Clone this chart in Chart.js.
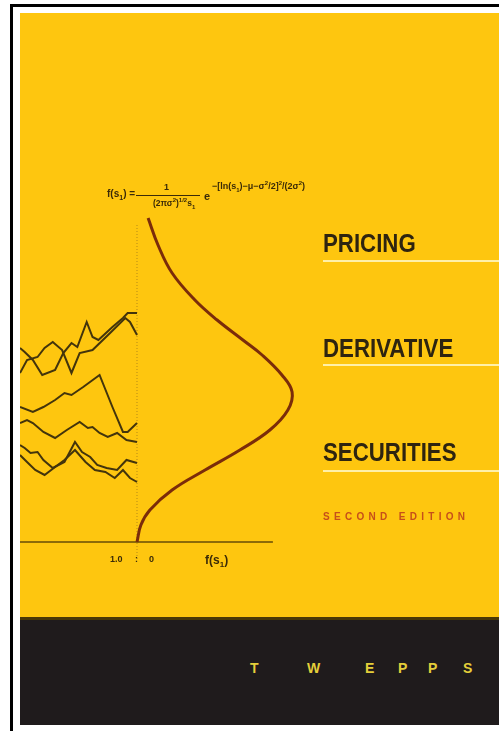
<!DOCTYPE html>
<html>
<head>
<meta charset="utf-8">
<script src="https://cdn.jsdelivr.net/npm/chart.js@4/dist/chart.umd.min.js"></script>
<style>
  body { margin: 0; background: #fff; width: 499px; height: 731px; overflow: hidden; position: relative; font-family: "Liberation Sans", Arial, sans-serif; }
  .abs { position: absolute; white-space: nowrap; }
  #frameTop { left: 10px; top: 4px; width: 489px; height: 3px; background: #000; }
  #frameLeft { left: 10px; top: 4px; width: 3px; height: 727px; background: #000; }
  #cover { left: 20px; top: 13px; width: 479px; height: 604px; background: #fec60f; }
  #band { left: 20px; top: 617px; width: 479px; height: 108px; background: #1f1b1c; border-top: 3px solid #4a3806; box-sizing: border-box; }
  #chartBox { left: 20px; top: 13px; width: 479px; height: 607px; }
  .title { font-weight: bold; font-size: 25px; color: #2e2410; transform: scaleX(0.89); transform-origin: left top; line-height: 25px; }
  .rule { height: 2px; background: #fff0a8; left: 323px; width: 176px; }
  .f { font-weight: bold; color: #3a2a08; }
  .author { font-weight: bold; font-size: 14px; color: #e4cf3a; }
</style>
</head>
<body>
<div class="abs" id="frameTop"></div>
<div class="abs" id="frameLeft"></div>
<div class="abs" id="cover"></div>
<div class="abs" id="band"></div>
<div class="abs" id="chartBox"><canvas id="cover-chart" width="479" height="607"></canvas></div>

<!-- formula -->
<div class="abs f" style="left:107px; top:188px; font-size:10px;">f(s<sub style="font-size:7px">1</sub>) =</div>
<div class="abs f" style="left:164px; top:182px; font-size:9px;">1</div>
<div class="abs" style="left:136px; top:195px; width:64px; height:1px; background:#3a2a08;"></div>
<div class="abs f" style="left:153px; top:197px; font-size:8.5px;">(2πσ<sup style="font-size:6px">2</sup>)<sup style="font-size:6px">1/2</sup>s<sub style="font-size:6px">1</sub></div>
<div class="abs f" style="left:204px; top:190px; font-size:11px;">e</div>
<div class="abs f" style="left:212px; top:180px; font-size:9px;">−[ln(s<sub style="font-size:6px">1</sub>)−μ−σ<sup style="font-size:6px">2</sup>/2]<sup style="font-size:6px">2</sup>/(2σ<sup style="font-size:6px">2</sup>)</div>

<!-- titles -->
<div class="abs title" style="left:323px; top:231px;">PRICING</div>
<div class="abs rule" style="top:260px;"></div>
<div class="abs title" style="left:323px; top:336px;">DERIVATIVE</div>
<div class="abs rule" style="top:364px;"></div>
<div class="abs title" style="left:323px; top:440px;">SECURITIES</div>
<div class="abs rule" style="top:470px;"></div>
<div class="abs" style="left:323px; top:511px; font-weight:bold; font-size:10px; letter-spacing:4.3px; color:#c64f1a;">SECOND EDITION</div>

<!-- axis labels -->
<div class="abs f" style="left:110px; top:554px; font-size:9px;">1.0</div>
<div class="abs f" style="left:135px; top:554px; font-size:9px;">:</div>
<div class="abs f" style="left:149px; top:554px; font-size:9px;">0</div>
<div class="abs f" style="left:205px; top:553px; font-size:12px;">f(s<sub style="font-size:8px">1</sub>)</div>

<!-- author -->
<div class="abs author" style="left:250px; top:660px;">T</div>
<div class="abs author" style="left:307px; top:660px;">W</div>
<div class="abs author" style="left:365px; top:660px;">E</div>
<div class="abs author" style="left:398px; top:660px;">P</div>
<div class="abs author" style="left:428px; top:660px;">P</div>
<div class="abs author" style="left:463px; top:660px;">S</div>

<script>
// simulated price paths: [time, price]
const path1 = [[0,1.69],[0.06,1.82],[0.15,1.85],[0.21,1.94],[0.28,2.00],[0.36,1.92],[0.44,1.69],[0.51,1.89],[0.62,1.92],[0.77,2.09],[0.90,2.24],[0.94,2.20],[1.0,2.07]];
const path2 = [[0,1.94],[0.04,1.90],[0.11,1.82],[0.19,1.67],[0.30,1.72],[0.37,1.89],[0.44,1.99],[0.49,1.95],[0.57,2.20],[0.62,2.05],[0.67,2.02],[0.79,2.15],[0.88,2.24],[0.92,2.29],[1.0,2.29]];
const path3 = [[0,1.35],[0.11,1.30],[0.20,1.35],[0.30,1.42],[0.38,1.49],[0.44,1.47],[0.54,1.55],[0.68,1.67],[0.79,1.35],[0.88,1.10],[0.92,1.10],[1.0,1.19]];
const path4 = [[0,1.19],[0.06,1.22],[0.11,1.19],[0.20,1.10],[0.30,1.04],[0.40,1.12],[0.51,1.20],[0.58,1.14],[0.62,1.15],[0.68,1.09],[0.75,1.05],[0.83,1.09],[0.91,1.02],[1.0,1.00]];
const path5 = [[0,0.97],[0.04,0.94],[0.09,0.89],[0.15,0.90],[0.20,0.82],[0.28,0.74],[0.38,0.80],[0.47,1.00],[0.53,0.90],[0.60,0.85],[0.66,0.77],[0.74,0.74],[0.83,0.72],[0.91,0.82],[1.0,0.79]];
const path6 = [[0,0.87],[0.06,0.80],[0.13,0.72],[0.21,0.67],[0.30,0.75],[0.38,0.82],[0.47,0.92],[0.56,0.80],[0.64,0.72],[0.73,0.70],[0.81,0.64],[0.88,0.72],[0.94,0.64],[1.0,0.60]];
const paths = [path1, path2, path3, path4, path5, path6];

// density of s1 (price, f)
const densityS = [3.24, 2.97, 2.69, 2.42, 2.22, 2.02, 1.87, 1.67, 1.50, 1.32, 1.12, 0.92, 0.72, 0.52, 0.32, 0.17, 0];
const densityF = [0.037, 0.07, 0.117, 0.193, 0.267, 0.353, 0.417, 0.483, 0.517, 0.503, 0.443, 0.343, 0.227, 0.117, 0.043, 0.013, 0];

// axis line and the dotted t = 1.0 / f = 0 line
const axisF = [-0.39, 0.453];
const markerS = [3.17, -0.18];

const datasets = [];

datasets.push({
    data: densityS.map((s, i) => ({ x: densityF[i], y: s })),
    xAxisID: 'xf',
    borderColor: '#7b2c0a',
    borderWidth: 3,
    tension: 0.4,
    showLine: true,
    pointRadius: 0
});

paths.forEach(p => {
    datasets.push({
        data: p.map(d => ({ x: d[0], y: d[1] })),
        xAxisID: 'xt',
        borderColor: '#43340c',
        borderWidth: 2,
        showLine: true,
        pointRadius: 0
    });
});

datasets.push({
    data: axisF.map(f => ({ x: f, y: 0 })),
    xAxisID: 'xf',
    borderColor: '#8c6a08',
    borderWidth: 2,
    showLine: true,
    pointRadius: 0
});

datasets.push({
    data: markerS.map(s => ({ x: 0, y: s })),
    xAxisID: 'xf',
    borderColor: '#b58a18',
    borderWidth: 1,
    borderDash: [1, 2],
    showLine: true,
    pointRadius: 0
});

new Chart(document.getElementById('cover-chart'), {
    type: 'scatter',
    data: { datasets: datasets },
    options: {
        responsive: false,
        animation: false,
        layout: { padding: 0 },
        plugins: { legend: { display: false }, tooltip: { enabled: false } },
        scales: {
            xt: { type: 'linear', display: false, min: 0, max: 4.094 },
            xf: { type: 'linear', display: false, min: -0.39, max: 1.2067 },
            y: { type: 'linear', display: false, min: -0.78, max: 5.29 }
        }
    }
});
</script>
</body>
</html>
